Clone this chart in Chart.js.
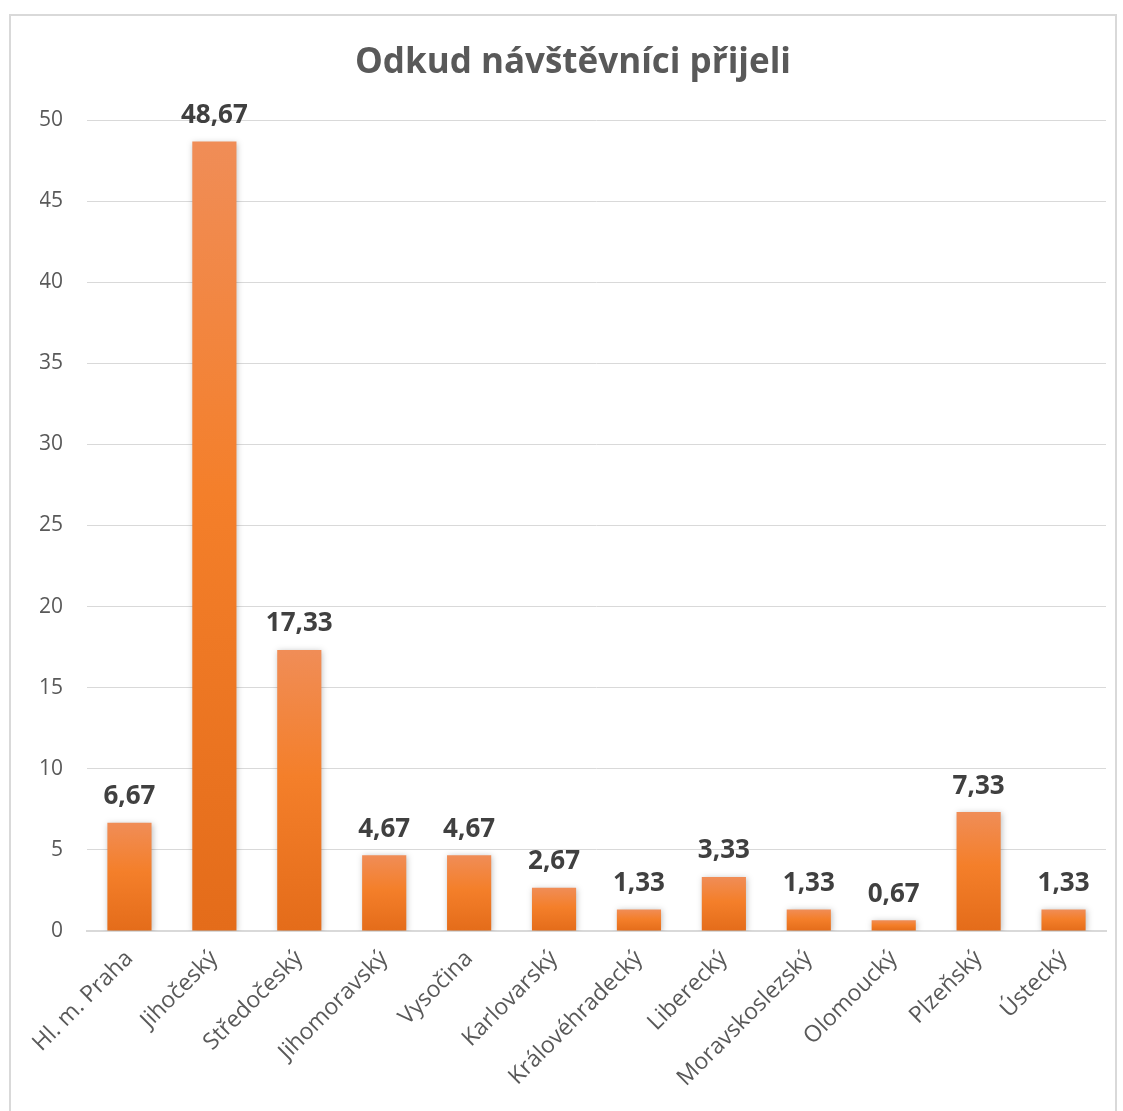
<!DOCTYPE html>
<html>
<head>
<meta charset="utf-8">
<script src="https://cdn.jsdelivr.net/npm/chart.js@4"></script>
<style>
  body { margin: 0; background: #fff; }
  #box {
    position: absolute; left: 9px; top: 14px;
    width: 1108px; height: 1110px;
    border: 2px solid #d9d9d9; box-sizing: border-box;
  }
  #chart { display: block; }
</style>
</head>
<body>
<div id="box"><canvas id="chart" width="1104" height="1106"></canvas></div>
<script>
const regions = ["Hl. m. Praha", "Jihočeský", "Středočeský", "Jihomoravský", "Vysočina",
  "Karlovarský", "Královéhradecký", "Liberecký", "Moravskoslezský", "Olomoucký",
  "Plzeňský", "Ústecký"];
const visitors = [6.67, 48.67, 17.33, 4.67, 4.67, 2.67, 1.33, 3.33, 1.33, 0.67, 7.33, 1.33];
const yTicks = [0, 5, 10, 15, 20, 25, 30, 35, 40, 45, 50];

const FONT = "'Open Sans', 'Noto Sans', sans-serif";

// gradient per bar, lighter on top (positions taken from the y scale)
function barFill(c) {
  const chart = c.chart;
  const y = chart.scales && chart.scales.y;
  if (!y || c.raw == null) return "#f47f2a";
  const top = y.getPixelForValue(c.raw);
  const bottom = y.getPixelForValue(0);
  if (!isFinite(top) || !isFinite(bottom) || bottom - top < 1) return "#f47f2a";
  const g = chart.ctx.createLinearGradient(0, top, 0, bottom);
  g.addColorStop(0, "#f08d57");
  g.addColorStop(0.45, "#f47f2a");
  g.addColorStop(1, "#e46c1a");
  return g;
}

// value labels above bars + soft shadow
const labelPlugin = {
  id: "valueLabels",
  beforeDatasetsDraw(chart) {
    const ctx = chart.ctx;
    ctx.save();
    ctx.shadowColor = "rgba(0,0,0,0.25)";
    ctx.shadowBlur = 6;
    ctx.shadowOffsetX = 1;
    ctx.shadowOffsetY = 1;
  },
  afterDatasetsDraw(chart) {
    const ctx = chart.ctx;
    ctx.restore();
    ctx.save();
    ctx.font = "bold 26px " + FONT;
    ctx.fillStyle = "#404040";
    ctx.textAlign = "center";
    ctx.textBaseline = "bottom";
    chart.getDatasetMeta(0).data.forEach((bar, i) => {
      ctx.fillText(visitors[i].toFixed(2).replace(".", ","), bar.x, bar.y - 13);
    });
    ctx.restore();
  }
};

new Chart(document.getElementById("chart"), {
  type: "bar",
  data: {
    labels: regions,
    datasets: [{
      data: visitors,
      backgroundColor: barFill,
      barPercentage: 0.52,
      categoryPercentage: 1
    }]
  },
  options: {
    responsive: false,
    animation: false,
    layout: { padding: { left: 29, right: 9, top: 10, bottom: 0 } },
    plugins: {
      legend: { display: false },
      tooltip: { enabled: false },
      title: {
        display: true,
        text: "Odkud návštěvníci přijeli",
        color: "#595959",
        font: { family: FONT, size: 35, weight: "bold" },
        padding: { top: 16, bottom: 36 }
      }
    },
    scales: {
      y: {
        min: 0, max: 50,
        afterBuildTicks: axis => { axis.ticks = yTicks.map(v => ({ value: v })); },
        afterFit: axis => {
          axis.width = 47;
          axis.paddingTop = 0;
          axis.paddingBottom = 0;
        },
        grid: { color: "#d9d9d9", lineWidth: 1, drawTicks: false },
        border: { display: false },
        ticks: { color: "#595959", font: { family: FONT, size: 21 }, padding: 24 }
      },
      x: {
        afterFit: axis => {
          axis.paddingLeft = 0;
          axis.paddingRight = 0;
          axis.height = 191;
        },
        grid: { display: false, drawTicks: false },
        border: { display: true, color: "#d9d9d9", width: 2 },
        ticks: {
          color: "#595959",
          font: { family: FONT, size: 23 },
          minRotation: 45, maxRotation: 45,
          padding: 14, autoSkip: false
        }
      }
    }
  },
  plugins: [labelPlugin]
});
</script>
</body>
</html>
